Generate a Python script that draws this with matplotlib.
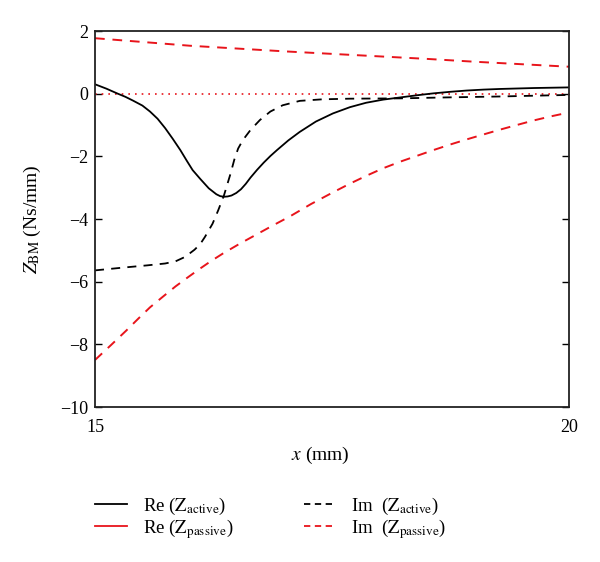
import matplotlib
matplotlib.use("Agg")
import matplotlib.pyplot as plt
from matplotlib.lines import Line2D

plt.rcParams["font.family"] = ["Liberation Serif", "DejaVu Serif"]
plt.rcParams["mathtext.fontset"] = "stix"

# valores
x_re_act = [15.00, 15.12, 15.24, 15.32, 15.40, 15.50, 15.58, 15.66, 15.74, 15.82, 15.90, 15.97,
            16.03, 16.11, 16.20, 16.28, 16.32, 16.36, 16.40, 16.44, 16.49, 16.54, 16.59, 16.64,
            16.71, 16.78, 16.85, 16.92, 17.04, 17.16, 17.33, 17.51, 17.69, 17.86, 18.04, 18.22,
            18.40, 18.57, 18.75, 18.92, 19.10, 19.27, 19.63, 20.00]
re_act = [0.30, 0.16, 0.00, -0.10, -0.22, -0.38, -0.57, -0.80, -1.10, -1.44, -1.80, -2.15,
          -2.44, -2.72, -3.02, -3.21, -3.27, -3.29, -3.28, -3.25, -3.17, -3.05, -2.88, -2.68,
          -2.43, -2.20, -1.99, -1.80, -1.49, -1.22, -0.89, -0.63, -0.43, -0.29, -0.19, -0.12,
          -0.05, 0.01, 0.06, 0.10, 0.13, 0.15, 0.18, 0.20]

x_im_act = [15.00, 15.30, 15.55, 15.74, 15.85, 15.95, 16.05, 16.11, 16.16, 16.24, 16.30, 16.36,
            16.43, 16.47, 16.51, 16.56, 16.64, 16.74, 16.85, 16.98, 17.16, 17.40, 17.69, 18.22,
            18.70, 19.27, 20.00]
im_act = [-5.64, -5.55, -5.48, -5.42, -5.35, -5.21, -4.98, -4.80, -4.57, -4.15, -3.72, -3.25,
          -2.55, -2.10, -1.75, -1.48, -1.16, -0.84, -0.57, -0.37, -0.23, -0.18, -0.16, -0.15,
          -0.12, -0.09, -0.04]

x_re_pas = [15.0, 20.0]
re_pas = [0.0, 0.0]

x_im_pas_a = [15.0, 15.5, 16.0, 16.5, 17.0, 17.5, 18.0, 18.5, 19.0, 19.5, 20.0]
im_pas_a = [1.77, 1.65, 1.53, 1.44, 1.35, 1.27, 1.19, 1.11, 1.02, 0.94, 0.86]

x_im_pas_b = [15.00, 15.17, 15.33, 15.46, 15.58, 15.72, 15.85, 15.98, 16.10, 16.22, 16.35,
              16.52, 16.70, 16.88, 17.06, 17.28, 17.51, 17.69, 17.87, 18.04, 18.22, 18.40,
              18.57, 18.75, 18.92, 19.10, 19.27, 19.45, 19.62, 19.80, 20.00]
im_pas_b = [-8.50, -8.02, -7.56, -7.17, -6.82, -6.47, -6.15, -5.86, -5.60, -5.35, -5.10,
            -4.80, -4.50, -4.20, -3.91, -3.52, -3.15, -2.87, -2.61, -2.38, -2.17, -1.98,
            -1.80, -1.62, -1.46, -1.30, -1.15, -1.00, -0.86, -0.73, -0.60]

x_ticks = [15, 20]
y_ticks = [-10, -8, -6, -4, -2, 0, 2]

fig = plt.figure(figsize=(6, 5.62), dpi=100)
ax = fig.add_axes([95 / 600, 1 - 407 / 562, 474 / 600, 376 / 562])

vermelho = "#e8141b"
ax.plot(x_re_pas, re_pas, color=vermelho, lw=1.2, linestyle=(0, (1, 3)))
ax.plot(x_im_pas_a, im_pas_a, color=vermelho, lw=1.4, linestyle=(0, (5, 4)))
ax.plot(x_im_pas_b, im_pas_b, color=vermelho, lw=1.4, linestyle=(0, (5, 4)))
ax.plot(x_im_act, im_act, color="black", lw=1.3, linestyle=(0, (5, 4)))
ax.plot(x_re_act, re_act, color="black", lw=1.3)

ax.set_xlim(15, 20)
ax.set_ylim(-10, 2)
ax.set_xticks(x_ticks)
ax.set_yticks(y_ticks)
ax.set_yticklabels([str(v).replace("-", "\u2212") for v in y_ticks])
ax.tick_params(axis="y", direction="in", right=True, length=5, width=1.0, labelsize=13, pad=5)
ax.tick_params(axis="x", direction="in", length=0, labelsize=13, pad=9)
for s in ax.spines.values():
    s.set_linewidth(1.3)
    s.set_color("#222222")

ax.set_ylabel(r"$Z_{\mathrm{BM}}$ (Ns/mm)", fontsize=14, labelpad=12)
ax.set_xlabel(r"$x$ (mm)", fontsize=14)
ax.xaxis.set_label_coords((320 - 95) / 474, (407 - 455) / 376)
ax.xaxis.label.set_va("center")

handles = [
    Line2D([], [], color="black", lw=1.3),
    Line2D([], [], color=vermelho, lw=1.3),
    Line2D([], [], color="black", lw=1.3, linestyle=(0, (3.5, 2.5))),
    Line2D([], [], color=vermelho, lw=1.3, linestyle=(0, (3.5, 2.5))),
]
rotulos = [
    r"Re ($\mathrm{Z}_{\mathrm{active}}$)",
    r"Re ($\mathrm{Z}_{\mathrm{passive}}$)",
    r"Im  ($\mathrm{Z}_{\mathrm{active}}$)",
    r"Im  ($\mathrm{Z}_{\mathrm{passive}}$)",
]
fig.legend(handles, rotulos, ncol=2, loc="center left", bbox_to_anchor=(95 / 600, 1 - 518 / 562),
           frameon=False, fontsize=13.5, borderpad=0, borderaxespad=0, handlelength=1.7,
           handletextpad=0.85, columnspacing=3.75, labelspacing=0.0)

fig.savefig("out.png", dpi=100)
